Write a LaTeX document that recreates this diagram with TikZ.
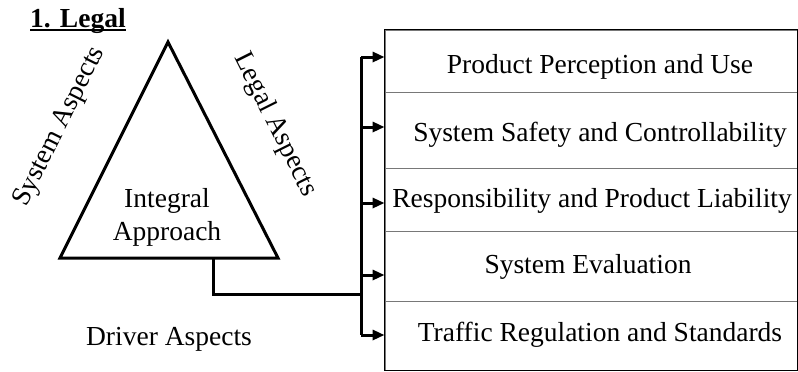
\documentclass[tikz,border=0pt]{standalone}
\usepackage{fontspec}
\setmainfont{Liberation Serif}
\usepackage{tikz}
\usetikzlibrary{positioning,calc,arrows.meta}
\definecolor{rulegray}{RGB}{120,120,120}

\begin{document}
\begin{tikzpicture}[
  x=1bp, y=-1bp,
  every node/.style={font=\fontsize{27.5bp}{33bp}\selectfont, inner sep=0pt},
  tri/.style={draw=black, line width=3bp, line join=miter},
  aspect/.style={align=center},
  rowbox/.style={draw=rulegray, line width=0.9bp, minimum width=412bp},
  topic/.style={anchor=base},
  frame/.style={draw=black, line width=1.6bp},
  link/.style={draw=black, line width=3bp},
  feed/.style={-{Triangle[length=12bp,width=10bp]}, line width=3bp},
]
\useasboundingbox (0,0) rectangle (798,371);
%─── Title ────────────────────────────────────────────────────────────────
\node[anchor=base west] (title) at (30,27) {\textbf{1. Legal}};
\draw[line width=2bp] ([yshift=-2.5bp]title.base west) -- ([yshift=-2.5bp]title.base east);
%─── Triangle with its three aspects ──────────────────────────────────────
\coordinate (apex) at (168,42);
\coordinate (tl)   at (60,258);
\coordinate (tr)   at (278,258);
\draw[tri] (tl) -- (apex) -- (tr) -- cycle;
\node[aspect] (integ) at (167,217) {Integral\\Approach};
\node[aspect, rotate=63.4]  (sys)  at (60,127)  {System Aspects};
\node[aspect, rotate=-63.4] (leg)  at (275,125) {Legal Aspects};
\node[aspect]               (drv)  at (169,339) {Driver Aspects};
%─── Column of topics ─────────────────────────────────────────────────────
\node[rowbox, minimum height=62bp] (r1) at (591,61)    {};
\node[rowbox, minimum height=76bp] (r2) at (591,130)   {};
\node[rowbox, minimum height=63bp] (r3) at (591,199.5) {};
\node[rowbox, minimum height=70bp] (r4) at (591,266)   {};
\node[rowbox, minimum height=69bp] (r5) at (591,335.5) {};
\draw[frame] (r1.north west) rectangle (r5.south east);
\node[topic] (t1) at (600,73)  {Product Perception and Use};
\node[topic] (t2) at (600,141) {System Safety and Controllability};
\node[topic] (t3) at (592,207) {Responsibility and Product Liability};
\node[topic] (t4) at (588,273) {System Evaluation};
\node[topic] (t5) at (600,341) {Traffic Regulation and Standards};
%─── Connector: triangle base to the bus, bus to each row ─────────────────
\coordinate (tap)  at (213,258);
\coordinate (join) at (361,294);
\coordinate (b1) at (361,57);
\coordinate (b2) at (361,127);
\coordinate (b3) at (361,203);
\coordinate (b4) at (361,275);
\coordinate (b5) at (361,335);
\draw[link] (tap) |- (join);
\draw[link] (b1) -- (b5);
\foreach \i in {1,...,5}
  \draw[feed] (b\i) -- (b\i -| r1.west);
\end{tikzpicture}
\end{document}
